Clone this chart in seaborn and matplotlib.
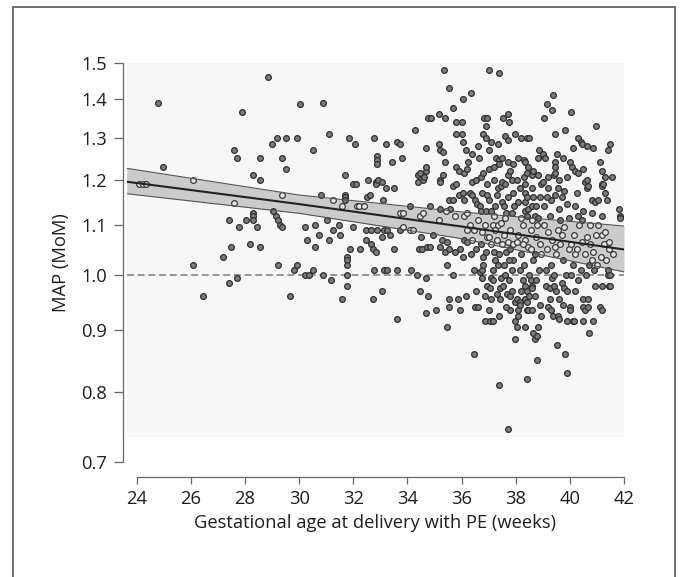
import numpy as np
import pandas as pd
import seaborn as sns
import matplotlib.pyplot as plt
from matplotlib.patches import Rectangle
from matplotlib.ticker import NullLocator

sns.set_style('ticks')
plt.rcParams['font.family'] = ['Open Sans', 'DejaVu Sans']

# points: (gestational age in weeks, MAP in MoM)
wk24_26 = [(24.10, 1.19), (24.25, 1.19), (24.34, 1.19), (24.80, 1.39), (24.98, 1.23),
           (26.07, 1.20), (26.07, 1.02), (26.44, 0.96)]
wk27_28 = [(27.20, 1.035), (27.42, 1.11), (27.42, 0.985), (27.50, 1.055), (27.60, 1.27),
           (27.60, 1.148), (27.69, 1.25), (27.69, 0.995), (27.79, 1.095), (27.90, 1.365),
           (28.03, 1.11), (28.17, 1.06), (28.31, 1.21), (28.31, 1.125), (28.31, 1.12),
           (28.31, 1.11), (28.46, 1.095), (28.55, 1.25), (28.55, 1.20), (28.55, 1.055),
           (28.85, 1.46)]
wk29 = [(28.99, 1.285), (29.05, 1.13), (29.13, 1.12), (29.17, 1.30), (29.20, 1.11),
        (29.23, 1.02), (29.29, 1.10), (29.35, 1.095), (29.37, 1.25), (29.36, 1.165),
        (29.52, 1.30), (29.52, 1.225), (29.66, 0.96), (29.81, 1.01), (29.91, 1.30),
        (29.91, 1.02)]
wk30 = [(30.03, 1.385), (30.22, 1.095), (30.22, 1.00), (30.30, 1.07), (30.38, 1.00),
        (30.50, 1.27), (30.50, 1.01), (30.59, 1.10), (30.59, 1.055), (30.73, 1.08),
        (30.80, 1.165), (30.87, 1.39), (30.89, 1.00)]
wk31 = [(31.02, 1.11), (31.11, 1.31), (31.11, 1.07), (31.18, 0.99), (31.24, 1.155),
        (31.26, 1.09), (31.49, 1.10), (31.51, 1.08), (31.57, 1.14), (31.57, 0.955),
        (31.69, 1.21), (31.70, 1.165), (31.70, 1.16), (31.70, 1.155), (31.76, 1.035),
        (31.76, 1.03), (31.76, 1.02), (31.78, 1.00), (31.78, 0.98), (31.85, 1.30),
        (31.88, 1.05)]
wk32 = [(32.00, 1.19), (32.00, 1.095), (32.07, 1.285), (32.10, 1.19), (32.13, 1.14),
        (32.22, 1.14), (32.25, 1.05), (32.40, 1.14), (32.46, 1.09), (32.46, 1.07),
        (32.52, 1.16), (32.53, 1.20), (32.62, 1.165), (32.65, 1.09), (32.65, 1.06),
        (32.74, 1.05), (32.74, 0.955), (32.77, 1.30), (32.77, 1.01), (32.84, 1.195),
        (32.84, 1.19), (32.84, 1.045), (32.89, 1.255), (32.89, 1.245), (32.89, 1.235),
        (32.89, 1.09), (32.92, 1.20)]
wk33 = [(33.05, 1.195), (33.05, 1.075), (33.05, 0.97), (33.10, 1.155), (33.15, 1.09),
        (33.15, 1.01), (33.21, 1.285), (33.21, 1.18), (33.24, 1.09), (33.24, 1.01),
        (33.36, 1.08), (33.42, 1.24), (33.50, 1.18), (33.50, 1.05), (33.60, 1.29),
        (33.60, 1.01), (33.60, 0.92), (33.73, 1.285), (33.73, 1.125), (33.73, 1.09),
        (33.81, 1.25), (33.83, 1.125), (33.85, 1.095)]
wk34 = [(34.10, 1.14), (34.10, 1.09), (34.12, 1.01), (34.20, 1.09), (34.28, 1.32),
        (34.34, 1.00), (34.40, 1.21), (34.40, 1.195), (34.44, 1.05), (34.46, 1.215),
        (34.46, 1.12), (34.46, 0.97), (34.50, 1.075), (34.53, 1.05), (34.57, 1.20),
        (34.57, 1.125), (34.60, 1.205), (34.69, 1.22), (34.69, 0.93), (34.70, 1.275),
        (34.70, 1.23), (34.70, 0.995), (34.71, 1.055), (34.77, 1.35), (34.77, 0.96),
        (34.83, 1.14), (34.83, 1.055), (34.87, 1.35), (34.95, 1.08)]
wk35 = [(35.07, 0.935), (35.17, 1.36), (35.17, 1.285), (35.17, 1.11), (35.20, 1.27),
        (35.20, 1.20), (35.20, 1.195), (35.20, 1.135), (35.20, 1.055), (35.27, 1.07),
        (35.30, 1.265), (35.30, 1.21), (35.36, 1.48), (35.38, 1.35), (35.40, 1.24),
        (35.40, 1.045), (35.43, 1.13), (35.45, 1.065), (35.45, 1.02), (35.45, 0.905),
        (35.55, 1.43), (35.55, 1.155), (35.55, 1.05), (35.55, 0.955), (35.55, 0.94),
        (35.57, 1.135), (35.67, 1.375), (35.70, 1.185), (35.70, 1.155), (35.70, 1.00),
        (35.76, 1.045), (35.77, 1.12), (35.80, 1.34), (35.80, 1.31), (35.80, 1.23),
        (35.80, 1.19), (35.85, 0.955), (35.90, 1.22), (35.90, 1.165), (35.95, 1.05),
        (35.95, 0.935)]
wk36 = [(36.00, 1.34), (36.00, 1.31), (36.06, 1.17), (36.07, 1.40), (36.07, 1.29),
        (36.07, 1.035), (36.10, 1.215), (36.10, 1.155), (36.10, 1.12), (36.10, 1.07),
        (36.15, 1.27), (36.15, 0.96), (36.20, 1.225), (36.20, 1.125), (36.20, 1.065),
        (36.20, 1.09), (36.30, 1.17), (36.30, 1.10), (36.34, 1.415), (36.35, 1.04),
        (36.37, 1.26), (36.38, 1.195), (36.38, 1.165), (36.40, 1.07), (36.44, 1.01),
        (36.45, 0.86), (36.45, 1.09), (36.50, 1.155), (36.50, 0.94), (36.55, 1.20),
        (36.55, 1.05), (36.58, 1.145), (36.60, 1.28), (36.60, 0.94), (36.60, 1.11),
        (36.68, 1.14), (36.68, 1.005), (36.70, 1.205), (36.70, 1.13), (36.70, 1.06),
        (36.74, 0.995), (36.74, 1.01), (36.75, 1.085), (36.76, 1.17), (36.80, 1.31),
        (36.80, 1.215), (36.80, 1.02), (36.80, 1.035), (36.83, 1.35), (36.85, 1.10),
        (36.87, 0.915), (36.90, 1.33), (36.90, 1.30), (36.90, 1.13), (36.90, 1.045),
        (36.93, 1.35), (36.93, 1.165), (36.93, 0.98), (36.95, 1.075), (36.95, 1.19),
        (36.65, 1.25), (36.25, 1.24), (36.55, 0.97), (36.85, 0.96)]
wk37 = [(37.00, 1.225), (37.00, 1.155), (37.00, 1.075), (37.00, 0.935), (37.02, 1.27),
        (37.03, 1.48), (37.05, 0.915), (37.05, 0.975), (37.10, 1.29), (37.10, 1.13),
        (37.10, 0.995), (37.10, 0.955), (37.10, 1.06), (37.15, 1.01), (37.15, 0.99),
        (37.15, 0.915), (37.15, 1.10), (37.20, 1.23), (37.20, 1.12), (37.20, 1.045),
        (37.25, 1.09), (37.25, 1.03), (37.27, 1.25), (37.30, 1.165), (37.30, 1.07),
        (37.30, 0.965), (37.35, 1.285), (37.35, 1.18), (37.35, 1.10), (37.38, 0.81),
        (37.40, 1.47), (37.40, 1.245), (37.40, 1.235), (37.40, 1.04), (37.40, 0.925),
        (37.42, 0.975), (37.42, 0.955), (37.45, 1.185), (37.45, 1.105), (37.45, 0.995),
        (37.50, 1.25), (37.50, 1.195), (37.50, 1.15), (37.50, 1.06), (37.54, 1.35),
        (37.54, 0.98), (37.55, 1.08), (37.55, 1.02), (37.60, 1.305), (37.60, 1.115),
        (37.60, 1.00), (37.65, 1.045), (37.65, 1.125), (37.69, 0.965), (37.70, 1.295),
        (37.70, 1.24), (37.70, 1.21), (37.70, 1.16), (37.70, 1.065), (37.70, 0.745),
        (37.73, 1.36), (37.75, 0.99), (37.76, 1.34), (37.79, 0.96), (37.79, 0.935),
        (37.80, 1.22), (37.80, 1.09), (37.80, 1.05), (37.85, 1.125), (37.85, 1.01),
        (37.90, 1.235), (37.90, 1.17), (37.90, 1.03), (37.90, 1.06), (37.97, 1.31),
        (37.97, 0.95), (37.97, 0.915), (37.97, 0.885), (37.20, 1.20), (37.60, 1.19),
        (37.85, 1.20), (37.25, 1.14), (37.55, 1.14), (37.95, 1.14), (37.35, 1.02),
        (37.75, 1.03), (37.65, 0.94), (37.85, 0.97)]
wk38 = [(38.04, 1.065), (38.04, 0.955), (38.04, 0.905), (38.05, 1.20), (38.10, 1.25),
        (38.10, 1.15), (38.10, 0.935), (38.10, 0.925), (38.10, 1.08), (38.15, 1.01),
        (38.16, 0.95), (38.16, 0.945), (38.20, 1.30), (38.20, 1.115), (38.20, 1.04),
        (38.25, 1.10), (38.25, 0.99), (38.30, 1.245), (38.30, 1.205), (38.30, 1.02),
        (38.34, 1.24), (38.35, 1.07), (38.35, 1.19), (38.35, 1.17), (38.35, 1.15),
        (38.35, 1.13), (38.35, 0.98), (38.35, 0.955), (38.35, 0.905), (38.40, 1.215),
        (38.40, 1.16), (38.40, 1.12), (38.40, 0.97), (38.40, 0.95), (38.40, 0.935),
        (38.40, 0.82), (38.43, 1.30), (38.45, 1.055), (38.45, 1.135), (38.47, 1.23),
        (38.47, 0.935), (38.50, 1.30), (38.50, 1.00), (38.55, 1.09), (38.55, 0.99),
        (38.60, 1.21), (38.60, 1.18), (38.60, 1.14), (38.60, 1.11), (38.60, 0.98),
        (38.60, 0.975), (38.60, 0.935), (38.65, 1.22), (38.65, 1.16), (38.65, 0.895),
        (38.65, 1.03), (38.70, 1.04), (38.70, 0.96), (38.70, 0.885), (38.70, 1.12),
        (38.75, 1.075), (38.78, 0.89), (38.78, 0.85), (38.80, 1.10), (38.81, 1.25),
        (38.84, 1.21), (38.84, 1.115), (38.84, 0.905), (38.85, 1.01), (38.86, 1.27),
        (38.90, 0.945), (38.90, 1.06), (38.90, 1.16), (38.93, 0.925), (38.95, 1.04),
        (38.15, 1.18), (38.25, 1.06), (38.55, 1.05), (38.75, 0.99), (38.20, 0.97),
        (38.50, 0.96), (38.95, 1.19), (38.75, 1.14)]
wk39 = [(39.02, 1.26), (39.02, 1.195), (39.05, 1.10), (39.05, 1.14), (39.06, 1.35),
        (39.08, 1.25), (39.10, 0.98), (39.10, 1.01), (39.15, 1.385), (39.15, 1.05),
        (39.20, 1.205), (39.20, 1.18), (39.20, 0.94), (39.20, 1.085), (39.25, 1.12),
        (39.25, 0.975), (39.30, 1.155), (39.30, 0.935), (39.30, 1.02), (39.33, 1.37),
        (39.35, 1.07), (39.35, 0.995), (39.39, 1.41), (39.39, 0.925), (39.40, 1.21),
        (39.40, 0.98), (39.40, 1.00), (39.45, 1.31), (39.45, 1.24), (39.45, 1.23),
        (39.45, 1.215), (39.45, 1.165), (39.45, 1.055), (39.50, 0.97), (39.50, 1.04),
        (39.52, 0.875), (39.54, 1.26), (39.55, 1.09), (39.57, 0.925), (39.60, 1.20),
        (39.60, 1.135), (39.60, 0.955), (39.60, 0.92), (39.65, 1.11), (39.65, 1.06),
        (39.70, 1.08), (39.70, 0.985), (39.70, 1.16), (39.75, 1.03), (39.76, 1.25),
        (39.80, 1.175), (39.80, 0.975), (39.80, 1.095), (39.82, 1.32), (39.82, 0.86),
        (39.85, 1.00), (39.88, 0.915), (39.90, 1.205), (39.90, 1.145), (39.90, 0.83),
        (39.90, 0.97), (39.95, 1.115), (39.95, 1.05), (39.15, 1.16), (39.55, 1.18),
        (39.25, 0.955), (39.75, 0.945)]
wk40 = [(40.00, 1.24), (40.04, 1.365), (40.07, 1.23), (40.00, 0.94), (40.00, 0.935),
        (40.05, 1.06), (40.05, 1.00), (40.10, 0.915), (40.10, 1.02), (40.13, 1.275),
        (40.15, 0.915), (40.15, 1.08), (40.19, 1.22), (40.20, 1.14), (40.20, 0.97),
        (40.20, 1.04), (40.25, 1.05), (40.25, 1.17), (40.30, 1.30), (40.30, 1.215),
        (40.30, 1.12), (40.30, 0.99), (40.35, 1.10), (40.40, 1.29), (40.40, 1.01),
        (40.45, 1.285), (40.45, 1.065), (40.45, 1.11), (40.50, 1.225), (40.50, 1.13),
        (40.50, 0.955), (40.50, 0.94), (40.50, 0.915), (40.55, 1.04), (40.56, 1.195),
        (40.56, 0.935), (40.60, 1.00), (40.62, 1.28), (40.62, 1.20), (40.62, 1.18),
        (40.65, 1.075), (40.68, 1.185), (40.68, 0.955), (40.68, 0.94), (40.70, 1.02),
        (40.72, 0.895), (40.75, 1.06), (40.75, 1.10), (40.80, 1.155), (40.80, 1.125),
        (40.80, 1.03), (40.85, 1.045), (40.87, 1.275), (40.87, 0.915), (40.90, 1.01),
        (40.93, 1.15), (40.93, 0.98), (40.95, 1.08), (40.96, 1.33)]
wk41 = [(41.00, 1.02), (41.05, 1.155), (41.05, 1.10), (41.10, 1.24), (41.10, 0.94),
        (41.15, 1.035), (41.18, 1.08), (41.20, 1.22), (41.20, 1.19), (41.20, 1.185),
        (41.20, 0.98), (41.20, 0.935), (41.20, 1.12), (41.24, 1.19), (41.25, 1.06),
        (41.30, 1.205), (41.30, 1.17), (41.30, 1.085), (41.35, 1.03), (41.36, 1.155),
        (41.40, 1.00), (41.40, 1.01), (41.42, 1.27), (41.45, 1.05), (41.45, 0.98),
        (41.45, 1.065), (41.50, 1.285), (41.50, 1.00), (41.50, 0.98), (41.57, 1.205),
        (41.60, 1.04), (41.80, 1.135), (41.86, 1.12), (41.86, 1.115)]

# regression line and its shaded band, read at a few ages
fit_ga = [23.63, 30.0, 36.0, 42.0]
fit_mom = [1.195, 1.145, 1.097, 1.050]
band_hi = [1.226, 1.165, 1.128, 1.098]
band_lo = [1.168, 1.125, 1.072, 1.006]

x_ticks = [24, 26, 28, 30, 32, 34, 36, 38, 40, 42]
y_ticks = [0.7, 0.8, 0.9, 1.0, 1.1, 1.2, 1.3, 1.4, 1.5]

pts = wk24_26 + wk27_28 + wk29 + wk30 + wk31 + wk32 + wk33 + wk34 + wk35 + wk36 + wk37 + wk38 + wk39 + wk40 + wk41
df = pd.DataFrame(pts, columns=['ga', 'mom'])
lo = np.interp(df['ga'], fit_ga, band_lo)
hi = np.interp(df['ga'], fit_ga, band_hi)
df['in_band'] = (df['mom'] >= lo) & (df['mom'] <= hi)

fig = plt.figure(figsize=(6.89, 5.77), dpi=100)
ax = fig.add_axes([0.1839, 0.1998, 0.7218, 0.6915])
ax.set_facecolor('white')
ax.set_yscale('log')

# light plot frame behind the data
ax.axhspan(0.734, 1.5, color='#f7f7f7', lw=0, zorder=0)
ax.fill_between(fit_ga, band_lo, band_hi, color='#cbcbcb', lw=0, zorder=1)
ax.axhline(1.0, color='#7a7a7a', lw=1.1, ls=(0, (4.5, 2.5)), zorder=1.5)

sns.scatterplot(data=df[~df['in_band']], x='ga', y='mom', s=17, color='#7c7c7c',
                edgecolor='#2e2e2e', linewidth=0.9, zorder=2, ax=ax, legend=False)
sns.scatterplot(data=df[df['in_band']], x='ga', y='mom', s=17, color='#e6e6e6',
                edgecolor='#3a3a3a', linewidth=0.9, zorder=2, ax=ax, legend=False)

sns.lineplot(x=fit_ga, y=band_hi, color='#555555', lw=0.8, estimator=None, zorder=3, ax=ax)
sns.lineplot(x=fit_ga, y=band_lo, color='#555555', lw=0.8, estimator=None, zorder=3, ax=ax)
sns.lineplot(x=fit_ga, y=fit_mom, color='#222222', lw=1.5, estimator=None, zorder=3, ax=ax)

ax.set_xlim(23.63, 42)
ax.set_ylim(0.7, 1.5)
ax.set_xticks(x_ticks)
ax.set_xticklabels([str(t) for t in x_ticks])
ax.set_yticks(y_ticks)
ax.set_yticklabels([f'{t:.1f}' for t in y_ticks])
ax.yaxis.set_minor_locator(NullLocator())

for side in ['top', 'right']:
    ax.spines[side].set_visible(False)
ax.spines['left'].set_position(('outward', 2.5))
ax.spines['left'].set_bounds(0.7, 1.5)
ax.spines['bottom'].set_position(('outward', 11.2))
ax.spines['bottom'].set_bounds(24, 42)
for side in ['left', 'bottom']:
    ax.spines[side].set_color('#666666')
    ax.spines[side].set_linewidth(0.9)

ax.tick_params(axis='y', length=6.5, width=0.9, color='#666666', pad=5, labelsize=13.2, labelcolor='#1e1e1e')
ax.tick_params(axis='x', length=5, width=0.9, color='#666666', pad=4.5, labelsize=13.2, labelcolor='#1e1e1e')
ax.set_xlabel('Gestational age at delivery with PE (weeks)', fontsize=13.2, color='#1e1e1e', labelpad=4)
ax.set_ylabel('MAP (MoM)', fontsize=13.2, color='#1e1e1e', labelpad=8)

# page border around the figure
fig.add_artist(Rectangle((13 / 689, -0.05), (675 - 13) / 689, 1.05 - 7 / 577,
                         transform=fig.transFigure, fill=False, ec='#555555', lw=1.2))

fig.savefig('out.png', dpi=100)
